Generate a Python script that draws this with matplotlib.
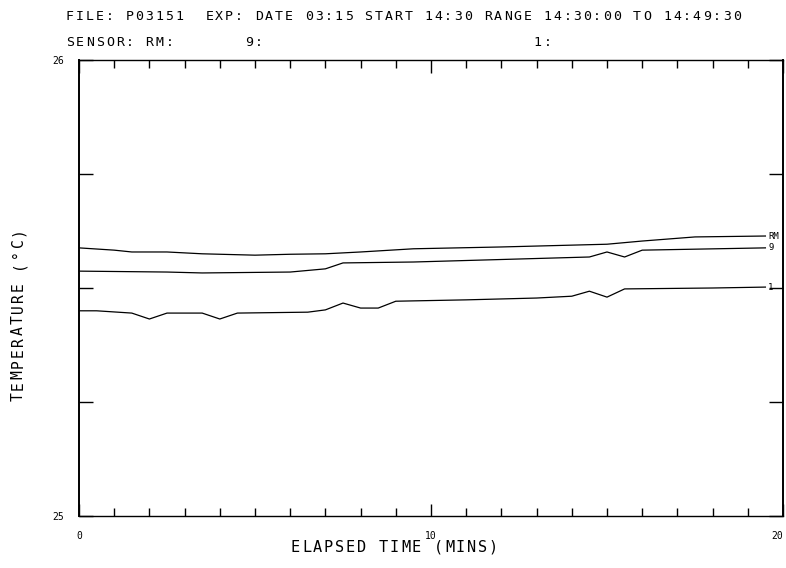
import matplotlib
matplotlib.use('Agg')
import matplotlib.pyplot as plt

# sensor readings (elapsed minutes, temperature in C)
t_rm = [0, 1.0, 1.5, 2.5, 3.5, 5.0, 6.0, 7.0, 8.0, 9.5, 12.0, 15.0, 16.0, 17.5, 19.5]
temp_rm = [25.588, 25.583, 25.579, 25.579, 25.575, 25.572, 25.574, 25.575, 25.579,
           25.586, 25.590, 25.596, 25.603, 25.612, 25.614]

t_9 = [0, 2.5, 3.5, 6.0, 7.0, 7.5, 9.5, 14.5, 15.0, 15.5, 16.0, 19.5]
temp_9 = [25.537, 25.535, 25.533, 25.535, 25.542, 25.555, 25.557, 25.568, 25.579,
          25.568, 25.583, 25.588]

t_1 = [0, 0.5, 1.5, 2.0, 2.5, 3.5, 4.0, 4.5, 6.5, 7.0, 7.5, 8.0, 8.5, 9.0, 11.0,
       13.0, 14.0, 14.5, 15.0, 15.5, 18.0, 19.5]
temp_1 = [25.450, 25.450, 25.445, 25.432, 25.445, 25.445, 25.432, 25.445, 25.447,
          25.452, 25.467, 25.456, 25.456, 25.471, 25.474, 25.478, 25.482, 25.493,
          25.480, 25.498, 25.500, 25.502]

series = [(t_rm, temp_rm, 'RM'), (t_9, temp_9, '9'), (t_1, temp_1, '1')]

title1 = 'FILE: P03151  EXP: DATE 03:15 START 14:30 RANGE 14:30:00 TO 14:49:30'
title2 = 'SENSOR: RM:       9:                           1:'
xlabel = 'ELAPSED TIME (MINS)'
ylabel = 'TEMPERATURE (°C)'

W, H = 786, 568
fig = plt.figure(figsize=(W / 100, H / 100), dpi=100)
ax = fig.add_axes([79 / W, 1 - 516 / H, 704 / W, 456 / H])

for t, v, name in series:
    ax.plot(t, v, color='black', lw=0.9)
    ax.text(t[-1] + 0.08, v[-1], name, fontsize=6.5, family='DejaVu Sans Mono',
            ha='left', va='center')

ax.set_xlim(0, 20)
ax.set_ylim(25, 26)
ax.set_xticks([0, 10, 20])
ax.set_xticklabels(['0', '10', '20'])
ax.set_xticks(range(0, 21), minor=True)
ax.set_yticks([25, 26])
ax.set_yticklabels(['25', '26'])
ax.set_yticks([25.25, 25.5, 25.75], minor=True)
ax.tick_params(which='both', direction='in', top=True, right=True, width=1.0,
               labelsize=7, pad=11)
ax.tick_params(axis='x', which='major', length=9)
ax.tick_params(axis='x', which='minor', length=6)
ax.tick_params(axis='y', which='both', length=10)
for lab in ax.get_xticklabels() + ax.get_yticklabels():
    lab.set_family('DejaVu Sans Mono')
ax.get_xticklabels()[-1].set_ha('right')
for side in ['left', 'right']:
    ax.spines[side].set_linewidth(1.4)
for side in ['top', 'bottom']:
    ax.spines[side].set_linewidth(1.0)


# plotter style lettering: one character per fixed pitch
def plotter_text(x0, y0, s, pitch, size, vertical=False):
    for i, ch in enumerate(s):
        if ch == ' ':
            continue
        if vertical:
            fig.text(x0 / W, 1 - (y0 - (i + 0.5) * pitch) / H, ch, rotation=90,
                     fontsize=size, family='DejaVu Sans Mono', ha='center', va='center')
        else:
            fig.text((x0 + (i + 0.5) * pitch) / W, 1 - y0 / H, ch,
                     fontsize=size, family='DejaVu Sans Mono', ha='center', va='center')


plotter_text(65, 16, title1, 9.95, 9.5)
plotter_text(65, 43, title2, 9.95, 9.5)
plotter_text(290, 547, xlabel, 11.0, 11)
plotter_text(18, 402, ylabel, 11.0, 10.5, vertical=True)

fig.savefig('out.png', dpi=100)
